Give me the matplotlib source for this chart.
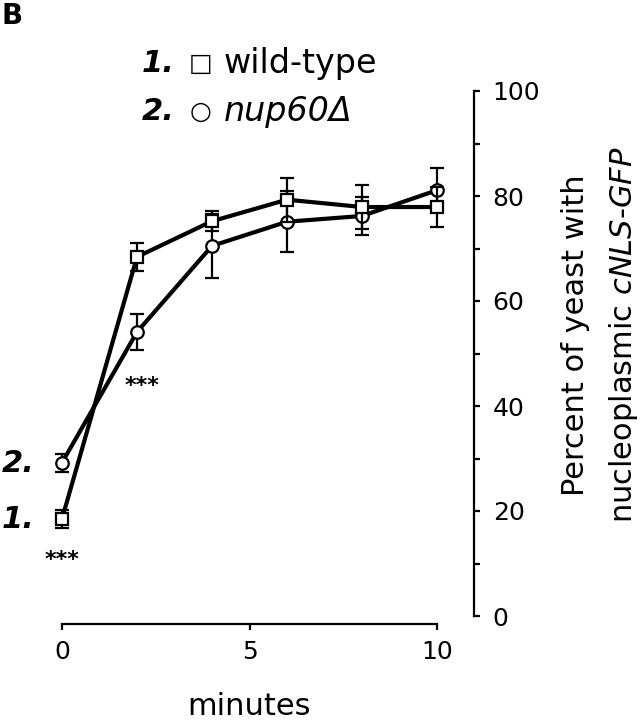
import matplotlib.pyplot as plt
import numpy as np

minutes = [0, 2, 4, 6, 8, 10]
wt_mean = [18.5, 68.4, 75.2, 79.3, 77.9, 77.9]
wt_err = [1.7, 2.7, 1.9, 4.2, 4.2, 3.8]
nup_mean = [29.2, 54.1, 70.5, 75.1, 76.2, 81.1]
nup_err = [1.7, 3.5, 6.1, 5.8, 3.6, 4.2]

x_ticks = [0, 5, 10]
y_ticks = [0, 20, 40, 60, 80, 100]
y_minor = [10, 30, 50, 70, 90]

plt.rcParams['font.family'] = 'DejaVu Sans'

fig = plt.figure(figsize=(6.44, 7.2), dpi=100)
W, H = 644, 720
# x: 0 -> 62px, 10 -> 437px ; y: 0 -> 616px, 100 -> 91px
ax = fig.add_axes([62 / W, (H - 616) / H, 375 / W, 525 / H])

ebar = dict(color='black', lw=3, capsize=5, capthick=1.6, elinewidth=1.6,
            markerfacecolor='white', markeredgecolor='black',
            markeredgewidth=1.6, clip_on=False)
l1 = ax.errorbar(minutes, nup_mean, yerr=nup_err, marker='o', markersize=9,
                 zorder=3, **ebar)
l2 = ax.errorbar(minutes, wt_mean, yerr=wt_err, marker='s', markersize=8,
                 zorder=4, **ebar)
for art in (l1, l2):
    for c in art.lines[1] + art.lines[2]:
        c.set_clip_on(False)

ax.set_xlim(0, 10)
ax.set_ylim(0, 100)
ax.set_xticks(x_ticks)
ax.set_yticks(y_ticks)
ax.set_yticks(y_minor, minor=True)

ax.spines['top'].set_visible(False)
ax.spines['left'].set_visible(False)
ax.spines['right'].set_position(('outward', 26.6))
ax.spines['bottom'].set_position(('outward', 5.8))
ax.spines['right'].set_linewidth(1.6)
ax.spines['bottom'].set_linewidth(1.6)
ax.yaxis.tick_right()
ax.yaxis.set_label_position('right')
ax.tick_params(axis='y', which='both', direction='out', length=4.5, width=1.6,
               labelsize=18, pad=9)
ax.tick_params(axis='x', direction='out', length=4.5, width=1.6,
               labelsize=18, pad=7)

ax.set_xlabel('minutes', fontsize=22, labelpad=20)

# y label: two lines, second partly italic
fig.text(576 / W, 1 - 335 / H, 'Percent of yeast with', rotation=90,
         fontsize=22, ha='center', va='center')
fig.text(624 / W, 1 - 335 / H, r'nucleoplasmic $\mathit{cNLS}$-$\mathit{GFP}$',
         rotation=90, fontsize=22, ha='center', va='center')

# panel letter
fig.text(2 / W, 1 - 16 / H, 'B', fontsize=20, fontweight='bold',
         ha='left', va='center')

# legend made of text
fig.text(142 / W, 1 - 64 / H, '1.', fontsize=22, fontweight='bold',
         style='italic', ha='left', va='center')
fig.text(201 / W, 1 - 64 / H, '\u25a1', fontsize=18, ha='center', va='center')
fig.text(224 / W, 1 - 64 / H, 'wild-type', fontsize=24, ha='left', va='center')
fig.text(142 / W, 1 - 112 / H, '2.', fontsize=22, fontweight='bold',
         style='italic', ha='left', va='center')
fig.text(201 / W, 1 - 112 / H, '\u25cb', fontsize=18, ha='center', va='center')
fig.text(224 / W, 1 - 112 / H, 'nup60\u0394', fontsize=24, style='italic',
         ha='left', va='center')

# series labels at t=0
fig.text(2 / W, 1 - 463 / H, '2.', fontsize=22, fontweight='bold',
         style='italic', ha='left', va='center')
fig.text(2 / W, 1 - 520 / H, '1.', fontsize=22, fontweight='bold',
         style='italic', ha='left', va='center')

# significance marks
fig.text(62 / W, 1 - 560 / H, '***', fontsize=16, fontweight='bold',
         ha='center', va='center')
fig.text(142 / W, 1 - 386 / H, '***', fontsize=16, fontweight='bold',
         ha='center', va='center')

fig.savefig('out.png', dpi=100)
